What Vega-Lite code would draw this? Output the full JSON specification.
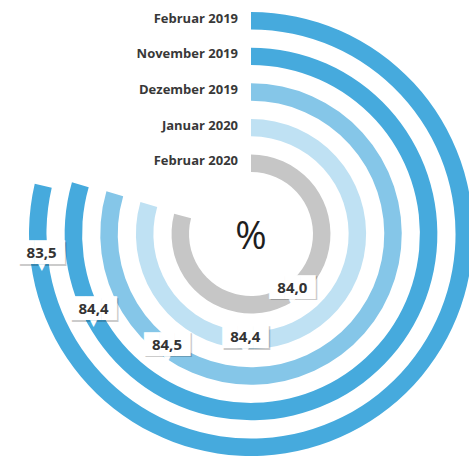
{
  "$schema": "https://vega.github.io/schema/vega-lite/v6.json",
  "width": 436,
  "height": 448,
  "autosize": {"type": "none"},
  "padding": {"left": 33, "top": 10, "right": 0, "bottom": 0},
  "background": "white",
  "config": {
    "view": {"stroke": null},
    "locale": {"number": {"decimal": ",", "thousands": ".", "grouping": [3], "currency": ["", " €"]}}
  },
  "data": {
    "values": [
      {"month": "Februar 2019", "value": 83.5},
      {"month": "November 2019", "value": 84.4},
      {"month": "Dezember 2019", "value": 84.5},
      {"month": "Januar 2020", "value": 84.4},
      {"month": "Februar 2020", "value": 84.0}
    ]
  },
  "layer": [
    {
      "mark": {"type": "arc"},
      "encoding": {
        "theta": {"field": "value", "type": "quantitative", "stack": null, "scale": {"domain": [0, 106.2], "range": [0, 6.2832]}},
        "radius": {"field": "month", "type": "nominal", "scale": {"type": "band", "domain": ["Februar 2020", "Januar 2020", "Dezember 2019", "November 2019", "Februar 2019"], "range": [62, 222], "paddingInner": 0.51, "paddingOuter": 0}},
        "color": {"field": "month", "type": "nominal", "legend": null, "scale": {"domain": ["Februar 2020", "Januar 2020", "Dezember 2019", "November 2019", "Februar 2019"], "range": ["#c6c6c6", "#bfe1f3", "#85c6e8", "#46aadd", "#46aadd"]}}
      }
    },
    {
      "mark": {"type": "text", "align": "right", "baseline": "middle", "dx": -13, "dy": -2, "font": "Open Sans", "fontWeight": "bold", "fontSize": 13, "color": "#383838"},
      "encoding": {
        "theta": {"value": 0},
        "radius": {"field": "month", "type": "nominal", "bandPosition": 0.5},
        "text": {"field": "month"}
      }
    },
    {
      "mark": {"type": "text", "align": "center", "baseline": "middle", "font": "DejaVu Sans", "fontSize": 20, "dx": 1.5, "dy": 1.5, "radiusOffset": -3, "color": "#000000", "opacity": 0.2, "text": "███"},
      "encoding": {
        "theta": {"field": "month", "type": "nominal", "scale": {"type": "point", "domain": ["Februar 2020", "s1", "s2", "s3", "s4", "s5", "Januar 2020", "s6", "s7", "s8", "s9", "Dezember 2019", "s10", "s11", "s12", "November 2019", "s13", "s14", "Februar 2019"], "range": [2.4854, 4.6216], "padding": 0}},
        "radius": {"field": "month", "type": "nominal", "bandPosition": 0.5}
      }
    },
    {
      "mark": {"type": "text", "align": "center", "baseline": "middle", "font": "DejaVu Sans", "fontSize": 20, "radiusOffset": -3, "color": "#ffffff", "text": "███"},
      "encoding": {
        "theta": {"field": "month", "type": "nominal", "scale": {"type": "point", "domain": ["Februar 2020", "s1", "s2", "s3", "s4", "s5", "Januar 2020", "s6", "s7", "s8", "s9", "Dezember 2019", "s10", "s11", "s12", "November 2019", "s13", "s14", "Februar 2019"], "range": [2.4854, 4.6216], "padding": 0}},
        "radius": {"field": "month", "type": "nominal", "bandPosition": 0.5}
      }
    },
    {
      "mark": {"type": "text", "align": "center", "baseline": "middle", "font": "DejaVu Sans", "fontSize": 9, "dy": 14, "radiusOffset": -3, "color": "#ffffff", "text": "▼"},
      "encoding": {
        "theta": {"field": "month", "type": "nominal", "scale": {"type": "point", "domain": ["Februar 2020", "s1", "s2", "s3", "s4", "s5", "Januar 2020", "s6", "s7", "s8", "s9", "Dezember 2019", "s10", "s11", "s12", "November 2019", "s13", "s14", "Februar 2019"], "range": [2.4854, 4.6216], "padding": 0}},
        "radius": {"field": "month", "type": "nominal", "bandPosition": 0.5}
      }
    },
    {
      "mark": {"type": "text", "align": "center", "baseline": "middle", "font": "Open Sans", "fontWeight": "bold", "fontSize": 15, "radiusOffset": -3, "color": "#333333"},
      "encoding": {
        "theta": {"field": "month", "type": "nominal", "scale": {"type": "point", "domain": ["Februar 2020", "s1", "s2", "s3", "s4", "s5", "Januar 2020", "s6", "s7", "s8", "s9", "Dezember 2019", "s10", "s11", "s12", "November 2019", "s13", "s14", "Februar 2019"], "range": [2.4854, 4.6216], "padding": 0}},
        "radius": {"field": "month", "type": "nominal", "bandPosition": 0.5},
        "text": {"field": "value", "type": "quantitative", "format": ".1f"}
      }
    },
    {
      "data": {"values": [{"t": "%"}]},
      "mark": {"type": "text", "align": "center", "baseline": "middle", "dy": 4, "font": "Open Sans", "fontWeight": 500, "fontSize": 38, "color": "#1e1e1e"},
      "encoding": {"text": {"field": "t"}}
    }
  ],
  "resolve": {"scale": {"theta": "independent"}}
}
